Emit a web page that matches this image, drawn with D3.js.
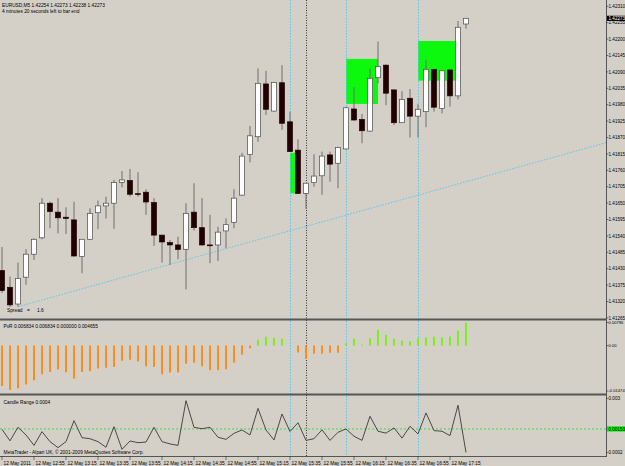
<!DOCTYPE html>
<html><head><meta charset="utf-8">
<script src="https://cdn.jsdelivr.net/npm/d3@7/dist/d3.min.js"></script>
<style>
html,body{margin:0;padding:0;background:#D4D0C8;}
svg{display:block;}
text{font-family:"Liberation Sans",Arial,sans-serif;font-size:4.8px;fill:#000;}
</style></head>
<body><svg id="chart" width="625" height="466"></svg>
<script>
// ---------- data ----------
const times = ["12:35","12:40","12:45","12:50","12:55","13:00","13:05","13:10","13:15","13:20","13:25","13:30","13:35","13:40","13:45","13:50","13:55","14:00","14:05","14:10","14:15","14:20","14:25","14:30","14:35","14:40","14:45","14:50","14:55","15:00","15:05","15:10","15:15","15:20","15:25","15:30","15:35","15:40","15:45","15:50","15:55","16:00","16:05","16:10","16:15","16:20","16:25","16:30","16:35","16:40","16:45","16:50","16:55","17:00","17:05","17:10","17:15","17:20","17:25"];
const opens  = [1.41427,1.41371,1.41315,1.41405,1.41482,1.41537,1.41653,1.41623,1.41606,1.41597,1.41474,1.41532,1.41621,1.41644,1.41653,1.41723,1.41729,1.41685,1.41690,1.41655,1.41546,1.41521,1.41513,1.41498,1.41623,1.41571,1.41513,1.41513,1.41560,1.41589,1.41680,1.41817,1.41876,1.42053,1.41962,1.42057,1.41926,1.41831,1.41686,1.41722,1.41745,1.41815,1.41787,1.41835,1.41969,1.41934,1.41895,1.42074,1.42116,1.42033,1.41923,1.42005,1.41945,1.41960,1.42102,1.41971,1.42100,1.42013,1.42254];
const highs  = [1.41506,1.41407,1.41454,1.41499,1.41535,1.41670,1.41658,1.41670,1.41639,1.41658,1.41532,1.41636,1.41662,1.41675,1.41731,1.41761,1.41768,1.41757,1.41700,1.41670,1.41546,1.41530,1.41541,1.41653,1.41720,1.41670,1.41614,1.41574,1.41602,1.41700,1.41822,1.41912,1.42105,1.42097,1.42060,1.42116,1.41960,1.41867,1.41720,1.41817,1.41826,1.41826,1.41842,1.41975,1.42042,1.41952,1.42105,1.42195,1.42118,1.42034,1.42029,1.42036,1.41985,1.42133,1.42103,1.42098,1.42100,1.42264,1.42273];
const lows   = [1.41352,1.41305,1.41306,1.41379,1.41463,1.41532,1.41569,1.41552,1.41550,1.41474,1.41418,1.41530,1.41566,1.41602,1.41567,1.41706,1.41675,1.41675,1.41614,1.41510,1.41454,1.41446,1.41465,1.41364,1.41561,1.41511,1.41452,1.41459,1.41502,1.41569,1.41677,1.41790,1.41859,1.41949,1.41960,1.41899,1.41825,1.41684,1.41634,1.41708,1.41681,1.41725,1.41703,1.41833,1.41930,1.41854,1.41893,1.42055,1.41982,1.41915,1.41922,1.41873,1.41873,1.41908,1.41960,1.41954,1.41977,1.42001,1.42238];
const closes = [1.41360,1.41312,1.41401,1.41482,1.41532,1.41653,1.41625,1.41604,1.41602,1.41476,1.41532,1.41619,1.41644,1.41653,1.41722,1.41731,1.41683,1.41683,1.41657,1.41546,1.41523,1.41513,1.41498,1.41619,1.41571,1.41513,1.41512,1.41556,1.41581,1.41670,1.41811,1.41879,1.42055,1.41968,1.42058,1.41921,1.41826,1.41686,1.41720,1.41744,1.41811,1.41784,1.41840,1.41973,1.41932,1.41896,1.42072,1.42111,1.42022,1.41923,1.42001,1.41945,1.41968,1.42102,1.41975,1.42097,1.42013,1.42243,1.42273];
const pvrValues = [-0.01258,-0.01380,-0.01329,-0.01207,-0.01074,-0.00890,-0.00818,-0.00746,-0.00828,-0.01022,-0.00818,-0.00798,-0.00716,-0.00685,-0.00665,-0.00470,-0.00440,-0.00491,-0.00644,-0.00665,-0.00890,-0.00838,-0.00838,-0.00562,-0.00532,-0.00644,-0.00767,-0.00767,-0.00736,-0.00532,-0.00286,-0.00082,0.00184,0.00276,0.00245,0.00215,0.00000,-0.00215,-0.00419,-0.00256,-0.00256,-0.00225,-0.00225,0.00072,0.00215,0.00031,0.00225,0.00491,0.00327,0.00215,0.00153,0.00133,0.00235,0.00256,0.00276,0.00256,0.00286,0.00460,0.00716];
const rangeValues = [0.00151,0.00096,0.00161,0.00124,0.00074,0.00140,0.00092,0.00063,0.00092,0.00193,0.00111,0.00106,0.00092,0.00065,0.00164,0.00055,0.00095,0.00087,0.00090,0.00161,0.00092,0.00081,0.00074,0.00289,0.00161,0.00154,0.00161,0.00113,0.00103,0.00132,0.00148,0.00124,0.00252,0.00148,0.00100,0.00225,0.00141,0.00183,0.00098,0.00106,0.00149,0.00098,0.00137,0.00153,0.00118,0.00098,0.00214,0.00142,0.00133,0.00158,0.00109,0.00166,0.00129,0.00230,0.00145,0.00142,0.00121,0.00267,0.00040];
const rangeLevel = 0.00153;
const priceTicks = ["1.42310","1.42255","1.42200","1.42145","1.42090","1.42035","1.41980","1.41925","1.41870","1.41815","1.41760","1.41705","1.41650","1.41595","1.41540","1.41485","1.41430","1.41375","1.41320","1.41265"];
const timeTickTimes = ["12:35","12:55","13:15","13:35","13:55","14:15","14:35","14:55","15:15","15:35","15:55","16:15","16:35","16:55","17:15"];
const timeTickLabels = ["12 May 2011","12 May 12:55","12 May 13:15","12 May 13:35","12 May 13:55","12 May 14:15","12 May 14:35","12 May 14:55","12 May 15:15","12 May 15:35","12 May 15:55","12 May 16:15","12 May 16:35","12 May 16:55","12 May 17:15"];
const rectTimes1 = ["15:35","16:10","16:55"];
const rectTimes2 = ["15:40","16:30","17:20"];
const rectTop = [1.41822,1.42137,1.42197];
const rectBottom = [1.41686,1.41986,1.42064];
const cyanLineTimes = ["15:35","16:10","16:55"];
const blackLineTimes = ["15:45"];
const trendTimes = ["12:45","17:25"];
const trendPrices = [1.41306,1.41725];
const pvrAxis = ["0.00796","0.00","-0.01474"];
const rangeAxis = ["0.003","0.0002"];
const titleText = "EURUSD,M5  1.42254 1.42273 1.42238 1.42273";
const subTitle = "4 minutes 20 seconds left to bar end";

// ---------- layout ----------
const svg = d3.select("#chart");
const W = 625, plotRight = 606;
const mainTop = 2, mainBottom = 318;
const pvrTop = 321, pvrBottom = 393;
const crTop = 396, crBottom = 456;

const x = d3.scalePoint().domain(times).range([2, 466]);
const y = d3.scaleLinear().domain([1.41265, 1.42310]).range([318.9, 7.3]);
const yP = d3.scaleLinear().domain([-0.01474, 0.00796]).range([393, 320]);
const yR = d3.scaleLinear().domain([0.0002, 0.003]).range([456.6, 398.4]);

svg.append("rect").attr("width", W).attr("height", 466).attr("fill", "#D4D0C8");

// green rectangles (background objects)
const gRects = svg.append("g");
rectTimes1.forEach((t, k) => {
  gRects.append("rect")
    .attr("x", x(t)).attr("width", x(rectTimes2[k]) - x(t))
    .attr("y", y(rectTop[k])).attr("height", y(rectBottom[k]) - y(rectTop[k]))
    .attr("fill", "#0CF80C");
});

// trend line (ray)
{
  const x1 = x(trendTimes[0]), y1 = y(trendPrices[0]);
  const x2 = x(trendTimes[1]), y2 = y(trendPrices[1]);
  const slope = (y2 - y1) / (x2 - x1);
  svg.append("line").attr("x1", x1).attr("y1", y1)
    .attr("x2", plotRight).attr("y2", y1 + slope * (plotRight - x1))
    .attr("stroke", "#5BC8E8").attr("stroke-width", 1).attr("stroke-dasharray", "1.5,1.5");
}

// vertical lines through all panes
cyanLineTimes.forEach(t => {
  svg.append("line").attr("x1", x(t) + 0.5).attr("x2", x(t) + 0.5).attr("y1", 0).attr("y2", crBottom)
    .attr("stroke", "#5BC8E8").attr("stroke-width", 1).attr("stroke-dasharray", "1.5,1.5");
});
blackLineTimes.forEach(t => {
  svg.append("line").attr("x1", x(t) + 0.5).attr("x2", x(t) + 0.5).attr("y1", 0).attr("y2", crBottom)
    .attr("stroke", "#333").attr("stroke-width", 1).attr("stroke-dasharray", "1,1.5");
});

// candles
const gC = svg.append("g");
times.forEach((t, i) => {
  const cx = x(t);
  const o = opens[i], c = closes[i];
  gC.append("line").attr("x1", cx).attr("x2", cx)
    .attr("y1", y(highs[i])).attr("y2", y(lows[i]))
    .attr("stroke", "#6E6E6E").attr("stroke-width", 1);
  const top = y(Math.max(o, c)), bot = y(Math.min(o, c));
  const h = Math.max(bot - top, 0.8);
  gC.append("rect").attr("x", cx - 2.5).attr("width", 5)
    .attr("y", top).attr("height", h)
    .attr("fill", c >= o ? "#FFFFFF" : "#200000")
    .attr("stroke", c >= o ? "#4A4A4A" : "#200000").attr("stroke-width", 0.7);
});

// PvR histogram
const gP = svg.append("g");
times.forEach((t, i) => {
  const v = pvrValues[i];
  if (v === 0) return;
  gP.append("line").attr("x1", x(t)).attr("x2", x(t))
    .attr("y1", yP(0)).attr("y2", yP(v))
    .attr("stroke", v < 0 ? "#FF8C1A" : "#7CF01A").attr("stroke-width", 2);
});

// Candle range line
svg.append("line").attr("x1", 0).attr("x2", plotRight).attr("y1", yR(rangeLevel)).attr("y2", yR(rangeLevel))
  .attr("stroke", "#22DD22").attr("stroke-width", 0.8).attr("stroke-dasharray", "2,2");
svg.append("path").datum(rangeValues)
  .attr("d", d3.line().x((d, i) => x(times[i])).y(d => yR(d)))
  .attr("fill", "none").attr("stroke", "#3A3A3A").attr("stroke-width", 0.9);

// pane separators & frame
const sep = [[mainBottom + 1.5, 2], [pvrBottom + 1.5, 2]];
sep.forEach(([yy, w]) => svg.append("line").attr("x1", 0).attr("x2", plotRight).attr("y1", yy).attr("y2", yy)
  .attr("stroke", "#555").attr("stroke-width", w));
svg.append("line").attr("x1", 0).attr("x2", plotRight + 0.5).attr("y1", crBottom + 0.5).attr("y2", crBottom + 0.5)
  .attr("stroke", "#555").attr("stroke-width", 1);
svg.append("line").attr("x1", plotRight + 0.5).attr("x2", plotRight + 0.5).attr("y1", 0).attr("y2", crBottom + 1)
  .attr("stroke", "#555").attr("stroke-width", 1);

// price axis
const gA = svg.append("g");
const lx = plotRight + 2.5;
priceTicks.forEach(s => {
  const yy = y(+s) - 1;
  gA.append("line").attr("x1", plotRight).attr("x2", plotRight + 2.5).attr("y1", yy).attr("y2", yy).attr("stroke", "#333").attr("stroke-width", 0.6);
  gA.append("text").attr("x", lx).attr("y", yy).attr("dy", "0.35em").style("font-size", "4.6px").text(s);
});
{
  const yc = y(closes[closes.length - 1]);
  gA.append("rect").attr("x", plotRight + 1).attr("y", yc - 2.6).attr("width", W - plotRight - 1).attr("height", 5.2).attr("fill", "#000");
  gA.append("text").attr("x", lx).attr("y", yc).attr("dy", "0.35em").style("font-size", "4.6px").style("fill", "#fff").text(d3.format(".5f")(closes[closes.length - 1]));
}
// PvR axis
[[pvrAxis[0], yP(+pvrAxis[0]) + 2.5], [pvrAxis[1], yP(0)], [pvrAxis[2], yP(+pvrAxis[2]) - 2]].forEach(([s, yy]) => {
  gA.append("line").attr("x1", plotRight).attr("x2", plotRight + 2.5).attr("y1", yy).attr("y2", yy).attr("stroke", "#333").attr("stroke-width", 0.6);
  gA.append("text").attr("x", lx).attr("y", yy).attr("dy", "0.35em").style("font-size", "4.1px").text(s);
});
// range axis
[[rangeAxis[0], yR(+rangeAxis[0])], [rangeAxis[1], yR(+rangeAxis[1]) - 4]].forEach(([s, yy]) => {
  gA.append("line").attr("x1", plotRight).attr("x2", plotRight + 2.5).attr("y1", yy).attr("y2", yy).attr("stroke", "#333").attr("stroke-width", 0.6);
  gA.append("text").attr("x", lx).attr("y", yy).attr("dy", "0.35em").style("font-size", "4.6px").text(s);
});
{
  const yl = yR(rangeLevel);
  gA.append("rect").attr("x", plotRight + 1).attr("y", yl - 2.6).attr("width", W - plotRight - 1).attr("height", 5.2).attr("fill", "#00F000");
  gA.append("text").attr("x", lx).attr("y", yl).attr("dy", "0.35em").style("font-size", "4.6px").text(d3.format(".5f")(rangeLevel));
}

// time axis
timeTickTimes.forEach((t, k) => {
  const xx = x(t);
  gA.append("line").attr("x1", xx).attr("x2", xx).attr("y1", crBottom).attr("y2", crBottom + 4).attr("stroke", "#333").attr("stroke-width", 0.6);
  gA.append("text").attr("x", xx + 1.5).attr("y", 463).attr("dy", "0.35em").text(timeTickLabels[k]);
});

// labels
svg.append("text").attr("x", 2).attr("y", 5).attr("dy", "0.35em").text(titleText);
svg.append("text").attr("x", 2).attr("y", 11).attr("dy", "0.35em").text(subTitle);
svg.append("text").attr("x", 7).attr("y", 310.5).attr("dy", "0.35em").text("Spread");
svg.append("text").attr("x", 27).attr("y", 310.5).attr("dy", "0.35em").text("=");
svg.append("text").attr("x", 37).attr("y", 310.5).attr("dy", "0.35em").text("1.6");
svg.append("text").attr("x", 3.5).attr("y", 326).attr("dy", "0.35em").text("PvR 0.006834 0.006834 0.000000 0.004655");
svg.append("text").attr("x", 3.5).attr("y", 402).attr("dy", "0.35em").text("Candle Range " + d3.format(".4f")(rangeValues[rangeValues.length - 1]));
svg.append("text").attr("x", 3.5).attr("y", 452).attr("dy", "0.35em").text("MetaTrader - Alpari UK, \u00A9 2001-2009 MetaQuotes Software Corp.");
</script>
</body></html>
